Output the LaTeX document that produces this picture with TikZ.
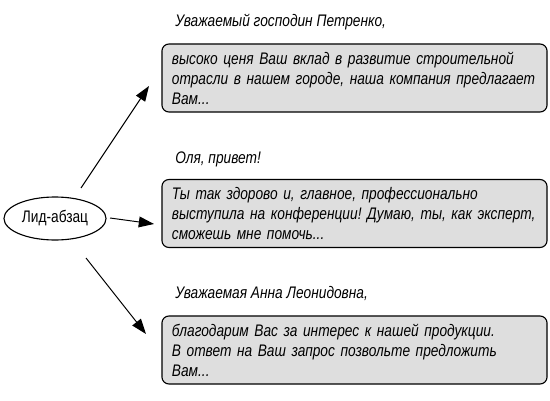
\documentclass[tikz,border=0pt]{standalone}
\usepackage{fontspec}
\setmainfont{Liberation Sans}[FakeStretch=0.82]
\frenchspacing
\usetikzlibrary{arrows.meta,shapes.geometric}
\definecolor{boxgray}{RGB}{222,222,222}
\tikzset{
  letter/.style={draw, thick, rounded corners=5pt, fill=boxgray,
    minimum width=9.625cm, minimum height=1.7cm, inner xsep=0.25cm,
    text width=9.125cm, align=left, font=\fontsize{11.9}{14.2}\selectfont\itshape},
  greet/.style={anchor=base west, inner sep=0pt, font=\fontsize{11.9}{14.2}\selectfont\itshape},
  lead/.style={draw, thick, ellipse, minimum width=2.55cm, minimum height=1.075cm,
    inner sep=0pt, font=\fontsize{11.9}{14.2}\selectfont},
  arr/.style={-{Triangle[length=0.38cm,width=0.27cm]}, line width=0.7pt}
}
\begin{document}
\begin{tikzpicture}[x=0.025cm, y=-0.025cm]
\useasboundingbox (0,0) rectangle (550,400);
\node[lead] (L) at (55,218.5) {Лид-абзац};
\node[greet] (G_1) at (175,27) {Уважаемый господин Петренко,};
\node[letter] (B_1) at (354.5,78) {высоко ценя Ваш вклад в развитие строительной\\отрасли в нашем городе, наша компания предлагает\\Вам...};
\node[greet] (G_2) at (175,163) {Оля, привет!};
\node[letter] (B_2) at (354.5,213.5) {Ты так здорово и, главное, профессионально\\выступила на конференции! Думаю, ты, как эксперт,\\сможешь мне помочь...};
\node[greet] (G_3) at (175,298) {Уважаемая Анна Леонидовна,};
\node[letter] (B_3) at (354.5,350) {благодарим Вас за интерес к нашей продукции.\\В ответ на Ваш запрос позвольте предложить\\Вам...};
\coordinate (S_1) at (81,188);
\coordinate (E_1) at (149,86);
\draw[arr] (S_1) -- (E_1);
\coordinate (S_2) at (110,218);
\coordinate (E_2) at (154,224);
\draw[arr] (S_2) -- (E_2);
\coordinate (S_3) at (86,258);
\coordinate (E_3) at (146,334);
\draw[arr] (S_3) -- (E_3);
\end{tikzpicture}
\end{document}
